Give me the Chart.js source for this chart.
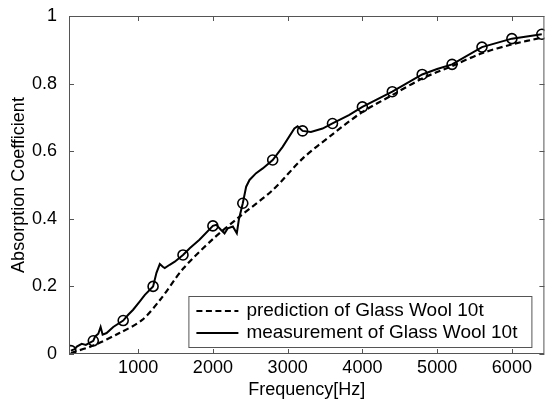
<!DOCTYPE html>
<html>
<head>
<meta charset="utf-8">
<script src="https://cdn.jsdelivr.net/npm/chart.js@4.4.0/dist/chart.umd.min.js"></script>
<style>
body { margin: 0; background: #fff; }
</style>
</head>
<body>
<canvas id="absChart" width="551" height="399"></canvas>
<script>
// prediction (dashed)
const predFreq = [100, 400, 750, 1050, 1300, 1600, 2000, 2350, 2800, 3200, 3600, 4000, 4400, 4800, 5200, 5600, 6000, 6400];
const predAbs = [0.003, 0.025, 0.062, 0.100, 0.162, 0.252, 0.340, 0.405, 0.485, 0.578, 0.650, 0.716, 0.766, 0.815, 0.852, 0.890, 0.916, 0.936];

// measurement (solid)
const measFreq = [100, 150, 180, 245, 300, 400, 425, 467, 498, 525, 578, 667, 800, 867, 933, 1020, 1090, 1200,
  1245, 1290, 1330, 1356, 1422, 1490, 1600, 1690, 1820, 2000, 2045, 2110, 2156, 2200, 2267, 2320, 2347, 2400,
  2445, 2490, 2578, 2667, 2800, 2933, 3090, 3133, 3200, 3311, 3467, 3600, 3820, 4000, 4400, 4800, 5000, 5200,
  5600, 6000, 6400];
const measAbs = [0.010, 0.014, 0.022, 0.030, 0.027, 0.039, 0.052, 0.060, 0.080, 0.057, 0.062, 0.080, 0.099, 0.116, 0.131, 0.155, 0.175, 0.200,
  0.240, 0.266, 0.258, 0.254, 0.264, 0.273, 0.293, 0.313, 0.338, 0.379, 0.382, 0.367, 0.357, 0.372, 0.377, 0.357, 0.397, 0.446,
  0.495, 0.515, 0.535, 0.549, 0.574, 0.613, 0.667, 0.674, 0.660, 0.657, 0.667, 0.682, 0.707, 0.731, 0.776, 0.827, 0.843, 0.857,
  0.908, 0.933, 0.946];

// circle markers on the measurement
const markFreq = [100, 400, 800, 1200, 1600, 2000, 2400, 2800, 3200, 3600, 4000, 4400, 4800, 5200, 5600, 6000, 6400];
const markAbs = [0.010, 0.039, 0.099, 0.200, 0.293, 0.379, 0.446, 0.574, 0.660, 0.682, 0.731, 0.776, 0.827, 0.857, 0.908, 0.933, 0.946];

const xTicks = [1000, 2000, 3000, 4000, 5000, 6000];
const yTicks = [0, 0.2, 0.4, 0.6, 0.8, 1];
const legendLabels = ['prediction of Glass Wool 10t', 'measurement of Glass Wool 10t'];

const fontFamily = '"Liberation Sans", Arial, sans-serif';

function toPoints(xs, ys) {
  return xs.map((x, i) => ({ x: x, y: ys[i] }));
}

// matlab style box with inward ticks, and the legend inside the axes
const frameAndLegend = {
  id: 'frameAndLegend',
  afterDraw(chart) {
    const ctx = chart.ctx;
    const a = chart.chartArea;
    const sx = chart.scales.x;
    const sy = chart.scales.y;
    ctx.save();
    ctx.strokeStyle = '#555';
    ctx.lineWidth = 1;
    ctx.strokeRect(a.left + 0.5, a.top + 0.5, a.right - a.left - 1, a.bottom - a.top - 1);
    ctx.beginPath();
    xTicks.forEach(v => {
      const px = Math.round(sx.getPixelForValue(v)) + 0.5;
      ctx.moveTo(px, a.bottom);
      ctx.lineTo(px, a.bottom - 5);
      ctx.moveTo(px, a.top);
      ctx.lineTo(px, a.top + 5);
    });
    yTicks.forEach(v => {
      const py = Math.round(sy.getPixelForValue(v)) + 0.5;
      ctx.moveTo(a.left, py);
      ctx.lineTo(a.left + 5, py);
      ctx.moveTo(a.right, py);
      ctx.lineTo(a.right - 5, py);
    });
    ctx.stroke();

    // legend box
    const bx = a.right - 356, by = a.bottom - 58, bw = 343, bh = 51;
    ctx.fillStyle = '#fff';
    ctx.fillRect(bx, by, bw, bh);
    ctx.strokeRect(bx + 0.5, by + 0.5, bw, bh);
    const ds = chart.data.datasets;
    ctx.font = '19px ' + fontFamily;
    ctx.textBaseline = 'middle';
    ctx.fillStyle = '#000';
    legendLabels.forEach((label, i) => {
      const rowY = by + 15 + i * 22;
      ctx.strokeStyle = '#000';
      ctx.lineWidth = 2;
      ctx.setLineDash(ds[i].borderDash || []);
      ctx.beginPath();
      ctx.moveTo(bx + 8, rowY);
      ctx.lineTo(bx + 50, rowY);
      ctx.stroke();
      ctx.setLineDash([]);
      ctx.fillText(label, bx + 58, rowY);
    });
    ctx.restore();
  }
};

new Chart(document.getElementById('absChart').getContext('2d'), {
  type: 'scatter',
  data: {
    datasets: [{
      label: legendLabels[0],
      data: toPoints(predFreq, predAbs),
      showLine: true,
      borderColor: '#000',
      borderWidth: 2.2,
      borderDash: [6, 3.5],
      pointRadius: 0,
      tension: 0.3
    }, {
      label: legendLabels[1],
      data: toPoints(measFreq, measAbs),
      showLine: true,
      borderColor: '#000',
      borderWidth: 2,
      pointRadius: 0,
      tension: 0
    }, {
      label: 'markers',
      data: toPoints(markFreq, markAbs),
      showLine: false,
      pointStyle: 'circle',
      pointRadius: 5,
      borderColor: '#000',
      borderWidth: 1.6,
      backgroundColor: 'rgba(0,0,0,0)'
    }]
  },
  options: {
    responsive: false,
    animation: false,
    layout: { padding: { top: 16, right: 5, left: 0, bottom: 0 } },
    plugins: {
      legend: { display: false },
      tooltip: { enabled: false }
    },
    scales: {
      x: {
        type: 'linear',
        min: 75,
        max: 6435,
        afterBuildTicks: s => { s.ticks = xTicks.map(v => ({ value: v })); },
        afterFit: s => { s.height = 45; },
        grid: { display: false },
        border: { display: false },
        ticks: { color: '#000', font: { family: fontFamily, size: 18 }, maxRotation: 0, padding: -5, callback: v => String(v) },
        title: { display: true, text: 'Frequency[Hz]', color: '#000', font: { family: fontFamily, size: 18 }, padding: { top: 0, bottom: -2 } }
      },
      y: {
        min: 0,
        max: 1,
        afterBuildTicks: s => { s.ticks = yTicks.map(v => ({ value: v })); },
        afterFit: s => { s.width = 69; },
        grid: { display: false },
        border: { display: false },
        ticks: { color: '#000', font: { family: fontFamily, size: 18 }, padding: 4, callback: v => String(+v.toFixed(1)) },
        title: { display: true, text: 'Absorption Coefficient', color: '#000', font: { family: fontFamily, size: 18 }, padding: { top: 8, bottom: 0 } }
      }
    }
  },
  plugins: [frameAndLegend]
});
</script>
</body>
</html>
